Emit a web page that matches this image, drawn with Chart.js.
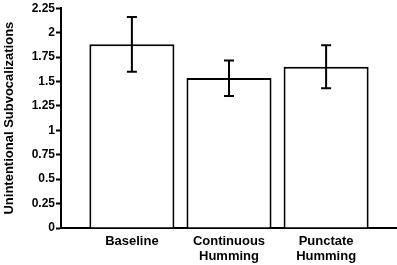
<!DOCTYPE html>
<html>
<head>
<meta charset="utf-8">
<script src="https://cdn.jsdelivr.net/npm/chart.js@4"></script>
<style>
  html, body { margin: 0; padding: 0; background: #fff; }
  #wrap { width: 397px; height: 265px; }
</style>
</head>
<body>
<div id="wrap"><canvas id="myChart"></canvas></div>
<script>
var categories = [["Baseline"], ["Continuous", "Humming"], ["Punctate", "Humming"]];
var means = [1.88, 1.535, 1.65];
var errLow = [1.60, 1.35, 1.43];
var errHigh = [2.16, 1.715, 1.87];
var yTicks = [0, 0.25, 0.5, 0.75, 1, 1.25, 1.5, 1.75, 2, 2.25];

var errorBars = {
    id: 'errorBars',
    afterDatasetsDraw: function(chart) {
        var ctx = chart.ctx;
        var xs = chart.scales.x;
        var ys = chart.scales.y;
        ctx.save();
        ctx.strokeStyle = '#000';
        ctx.lineWidth = 2;
        for (var i = 0; i < means.length; i++) {
            var x = xs.getPixelForValue(i);
            var top = ys.getPixelForValue(errHigh[i]);
            var bot = ys.getPixelForValue(errLow[i]);
            ctx.beginPath();
            ctx.moveTo(x, top);
            ctx.lineTo(x, bot);
            ctx.moveTo(x - 5, top);
            ctx.lineTo(x + 5, top);
            ctx.moveTo(x - 5, bot);
            ctx.lineTo(x + 5, bot);
            ctx.stroke();
        }
        ctx.restore();
    }
};

var ctx = document.getElementById('myChart').getContext('2d');
var chart = new Chart(ctx, {
    type: 'bar',
    data: {
        datasets: [{
            data: means.map(function(v, i) { return { x: i, y: v }; }),
            backgroundColor: '#fff',
            borderColor: '#000',
            borderWidth: 2,
            categoryPercentage: 1,
            barPercentage: 0.876
        }]
    },
    options: {
        responsive: true,
        maintainAspectRatio: false,
        animation: false,
        layout: { padding: { top: 0, right: 0, bottom: 0, left: 0 } },
        plugins: { legend: { display: false }, tooltip: { enabled: false } },
        scales: {
            x: {
                type: 'linear',
                offset: false,
                min: -0.73,
                max: 2.73,
                afterBuildTicks: function(scale) {
                    scale.ticks = [{ value: 0 }, { value: 1 }, { value: 2 }];
                },
                afterFit: function(scale) { scale.height = 37; },
                grid: { display: true, drawOnChartArea: false, drawTicks: false },
                border: { color: '#000', width: 2 },
                ticks: {
                    padding: 6,
                    autoSkip: false,
                    maxRotation: 0,
                    color: '#000',
                    font: { family: 'Liberation Sans, Arial', size: 13, weight: 'bold', lineHeight: 1.15 },
                    callback: function(v) { return categories[v]; }
                }
            },
            y: {
                min: 0,
                max: 2.25,
                afterBuildTicks: function(scale) {
                    scale.ticks = yTicks.map(function(v) { return { value: v }; });
                },
                afterFit: function(scale) { scale.width = 61; },
                grid: { drawOnChartArea: false, tickLength: 5, tickWidth: 2, color: '#000' },
                border: { color: '#000', width: 2 },
                title: {
                    display: true,
                    text: 'Unintentional Subvocalizations',
                    color: '#000',
                    font: { family: 'Liberation Sans, Arial', size: 13, weight: 'bold' },
                    padding: { top: 2, bottom: 0 }
                },
                ticks: {
                    padding: 1,
                    color: '#000',
                    font: { family: 'Liberation Sans, Arial', size: 12, weight: 'bold' },
                    callback: function(v) { return String(v); }
                }
            }
        }
    },
    plugins: [errorBars]
});
</script>
</body>
</html>
